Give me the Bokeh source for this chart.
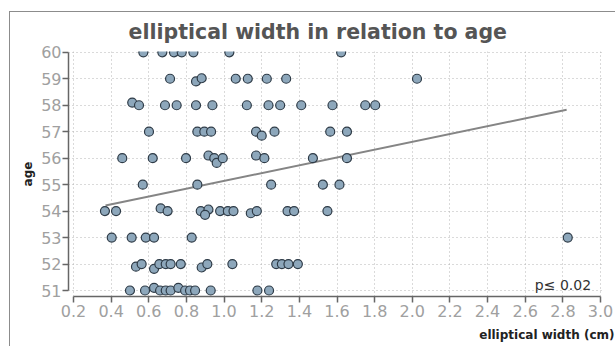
from bokeh.plotting import figure
from bokeh.models import FixedTicker, NumeralTickFormatter, Label, Range1d, Title
from bokeh.embed import file_html
from bokeh.resources import INLINE

# elliptical width (cm) and age (years)
width_cm = [
    0.571, 0.672, 0.734, 0.775, 0.837, 1.028, 1.622,
    0.713, 0.851, 0.881, 1.062, 1.126, 1.227, 1.330, 2.025,
    0.512, 0.548, 0.686, 0.748, 0.851, 0.938, 1.121, 1.236, 1.298, 1.410, 1.576, 1.750, 1.803,
    0.601, 0.858, 0.895, 0.931, 1.170, 1.200, 1.268, 1.564, 1.653,
    0.459, 0.621, 0.798, 0.917, 0.948, 0.961, 0.993, 1.170, 1.214, 1.472, 1.653,
    0.568, 0.858, 1.250, 1.525, 1.613,
    0.367, 0.426, 0.663, 0.700, 0.876, 0.917, 0.899, 0.979, 1.020, 1.050, 1.142, 1.174, 1.337, 1.372, 1.549,
    0.403, 0.509, 0.584, 0.628, 0.828, 2.826,
    0.532, 0.562, 0.628, 0.656, 0.690, 0.716, 0.770, 0.881, 0.911, 1.044, 1.277, 1.307, 1.342, 1.392,
    0.500, 0.580, 0.628, 0.660, 0.690, 0.716, 0.757, 0.793, 0.819, 0.846, 0.929, 1.177, 1.239,
]
age = [
    60, 60, 60, 60, 60, 60, 60,
    59, 58.9, 59.02, 59, 59, 59, 59, 59,
    58.1, 58, 58, 58, 58, 58, 58, 58, 58, 58, 58, 58, 58,
    57, 57, 57, 57, 57, 56.85, 57, 57, 57,
    56, 56, 56, 56.1, 56, 55.82, 56, 56.1, 56, 56, 56,
    55, 55, 55, 55, 55,
    54, 54, 54.1, 54, 54, 54.06, 53.86, 54, 54, 54, 53.92, 54, 54, 54, 54,
    53, 53, 53, 53, 53, 53,
    51.9, 52, 51.82, 52, 52, 52, 52, 51.87, 52, 52, 52, 52, 52, 52,
    51, 51, 51.1, 51, 51, 51, 51.1, 51, 51, 51, 51, 51, 51,
]

# regression line end points
fit_x = [0.37, 2.82]
fit_y = [54.21, 57.83]

x_ticks = [0.2, 0.4, 0.6, 0.8, 1.0, 1.2, 1.4, 1.6, 1.8, 2.0, 2.2, 2.4, 2.6, 2.8, 3.0]
y_ticks = [51, 52, 53, 54, 55, 56, 57, 58, 59, 60]

title_text = "elliptical width in relation to age"
x_label = "elliptical width (cm)"
y_label = "age"
p_text = "p\u2264 0.02"

p = figure(width=606, height=335, output_backend="svg", toolbar_location=None,
           title_location=None,
           x_range=Range1d(0.1734, 3.0106), y_range=Range1d(50.774, 60.03),
           min_border_left=58, min_border_right=14, min_border_top=39, min_border_bottom=51)
p.styles = {"border-left": "1px solid #8c8c8c", "border-top": "1px solid #8c8c8c",
            "margin-left": "9px", "margin-top": "11px"}

p.outline_line_color = None
p.background_fill_color = "white"
p.border_fill_color = "white"

# small spacer between the frame and the title
p.add_layout(Title(text=" ", text_font_size="6px", standoff=0), "above")
top_title = Title(text=title_text, align="left", offset=60, vertical_align="bottom", standoff=0,
                  text_font="DejaVu Sans", text_font_size="20.5px", text_font_style="bold",
                  text_color="#555555")
p.add_layout(top_title, "above")

for ax in (p.xaxis[0], p.yaxis[0]):
    ax.axis_line_color = "#666666"
    ax.axis_line_width = 1.5
    ax.major_tick_line_color = "#666666"
    ax.major_tick_line_width = 1.5
    ax.major_tick_out = 6
    ax.major_tick_in = 0
    ax.minor_tick_line_color = None
    ax.major_label_text_font = "DejaVu Sans"
    ax.major_label_text_font_size = "16px"
    ax.major_label_text_color = "#a0a0a0"

p.xaxis[0].ticker = FixedTicker(ticks=x_ticks)
p.xaxis[0].formatter = NumeralTickFormatter(format="0.0")
p.xaxis[0].bounds = (x_ticks[0], x_ticks[-1])
p.xaxis[0].major_label_standoff = 2

p.yaxis[0].ticker = FixedTicker(ticks=y_ticks)
p.yaxis[0].bounds = (y_ticks[0], y_ticks[-1])
p.yaxis[0].major_label_standoff = 1
p.yaxis[0].axis_label = y_label
p.yaxis[0].axis_label_text_font = "DejaVu Sans"
p.yaxis[0].axis_label_text_font_size = "12px"
p.yaxis[0].axis_label_text_font_style = "bold"
p.yaxis[0].axis_label_text_color = "#222222"
p.yaxis[0].axis_label_standoff = 3

# small spacer between the tick labels and the x-axis title
p.add_layout(Title(text=" ", text_font_size="6px", standoff=0), "below")
bottom_title = Title(text=x_label, align="right", offset=-12, vertical_align="top", standoff=0,
                     text_font="DejaVu Sans", text_font_size="12px", text_font_style="bold",
                     text_color="#222222")
p.add_layout(bottom_title, "below")

p.xgrid[0].ticker = FixedTicker(ticks=x_ticks)
p.ygrid[0].ticker = FixedTicker(ticks=y_ticks)
for g in (p.xgrid[0], p.ygrid[0]):
    g.grid_line_color = "#b4b4b4"
    g.grid_line_dash = "1 3"
    g.grid_line_width = 1

p.line(fit_x, fit_y, line_color="#858585", line_width=2)
p.scatter(width_cm, age, size=9, fill_color="#8da7bb", line_color="#2e3b47", line_width=1.2)

p.add_layout(Label(x=2.95, y=51.19, text=p_text, text_align="right", text_baseline="alphabetic",
                   text_font="DejaVu Sans", text_font_size="14px", text_color="#333333"))

open("out.html", "w").write(file_html(p, INLINE))
